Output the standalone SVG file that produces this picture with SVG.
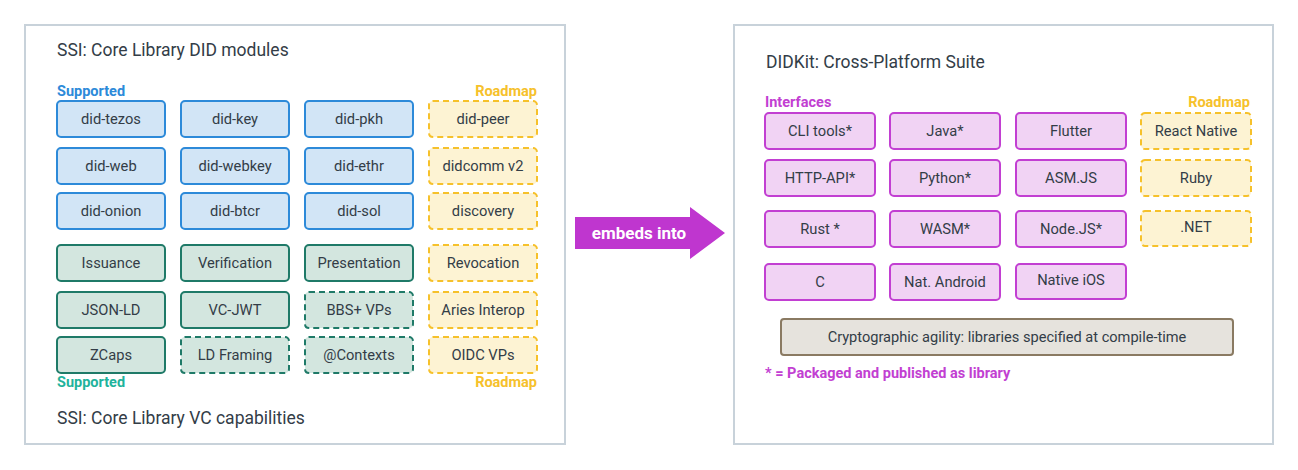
<svg xmlns="http://www.w3.org/2000/svg" width="1298" height="470" viewBox="0 0 1298 470">
<style>
  text { font-family: Roboto, "Liberation Sans", sans-serif; }
  .panel { fill: #ffffff; stroke: #c8d2da; stroke-width: 2; }
  .title { font-size: 17.5px; fill: #333d47; }
  .lbl { font-size: 14.5px; font-weight: bold; }
  .t { font-size: 14.7px; fill: #333d47; text-anchor: middle; }
  .ct { font-size: 14.6px; fill: #333d47; text-anchor: middle; }
  .did { fill: #d2e5f6; stroke: #2d8ad9; stroke-width: 2; }
  .road { fill: #fdf3d3; stroke: #f6c12b; stroke-width: 2; stroke-dasharray: 6 4; }
  .vc { fill: #d3e6df; stroke: #1f7a68; stroke-width: 2; }
  .vcd { fill: #d3e6df; stroke: #1f7a68; stroke-width: 2; stroke-dasharray: 6 4; }
  .ifc { fill: #f1d3f4; stroke: #c23fd2; stroke-width: 2; }
  .crypto { fill: #e6e3dd; stroke: #8a7a62; stroke-width: 2; }
</style>

<g id="panel-ssi">
  <rect class="panel" x="25" y="25" width="540" height="419"/>
  <text class="title" x="57" y="56">SSI: Core Library DID modules</text>
  <text class="lbl" x="57" y="95.5" fill="#2d8ad9">Supported</text>
  <text class="lbl" x="537" y="95.5" fill="#f6c12b" text-anchor="end">Roadmap</text>
  <text class="lbl" x="57" y="387" fill="#1fb39c">Supported</text>
  <text class="lbl" x="537" y="387" fill="#f6c12b" text-anchor="end">Roadmap</text>
  <text class="title" x="57" y="424">SSI: Core Library VC capabilities</text>
</g>

<g id="did-tezos"><rect class="did" x="57" y="101" width="108" height="36" rx="4"/><text class="t" x="111" y="124.3">did-tezos</text></g>
<g id="did-key"><rect class="did" x="181" y="101" width="108" height="36" rx="4"/><text class="t" x="235" y="124.3">did-key</text></g>
<g id="did-pkh"><rect class="did" x="305" y="101" width="108" height="36" rx="4"/><text class="t" x="359" y="124.3">did-pkh</text></g>
<g id="did-peer"><rect class="road" x="429" y="101" width="108" height="36" rx="4"/><text class="t" x="483" y="124.3">did-peer</text></g>

<g id="did-web"><rect class="did" x="57" y="148" width="108" height="36" rx="4"/><text class="t" x="111" y="171.3">did-web</text></g>
<g id="did-webkey"><rect class="did" x="181" y="148" width="108" height="36" rx="4"/><text class="t" x="235" y="171.3">did-webkey</text></g>
<g id="did-ethr"><rect class="did" x="305" y="148" width="108" height="36" rx="4"/><text class="t" x="359" y="171.3">did-ethr</text></g>
<g id="didcomm-v2"><rect class="road" x="429" y="148" width="108" height="36" rx="4"/><text class="t" x="483" y="171.3">didcomm v2</text></g>

<g id="did-onion"><rect class="did" x="57" y="193" width="108" height="36" rx="4"/><text class="t" x="111" y="216.3">did-onion</text></g>
<g id="did-btcr"><rect class="did" x="181" y="193" width="108" height="36" rx="4"/><text class="t" x="235" y="216.3">did-btcr</text></g>
<g id="did-sol"><rect class="did" x="305" y="193" width="108" height="36" rx="4"/><text class="t" x="359" y="216.3">did-sol</text></g>
<g id="discovery"><rect class="road" x="429" y="193" width="108" height="36" rx="4"/><text class="t" x="483" y="216.3">discovery</text></g>

<g id="issuance"><rect class="vc" x="57" y="245" width="108" height="36" rx="4"/><text class="t" x="111" y="268.3">Issuance</text></g>
<g id="verification"><rect class="vc" x="181" y="245" width="108" height="36" rx="4"/><text class="t" x="235" y="268.3">Verification</text></g>
<g id="presentation"><rect class="vc" x="305" y="245" width="108" height="36" rx="4"/><text class="t" x="359" y="268.3">Presentation</text></g>
<g id="revocation"><rect class="road" x="429" y="245" width="108" height="36" rx="4"/><text class="t" x="483" y="268.3">Revocation</text></g>

<g id="json-ld"><rect class="vc" x="57" y="292" width="108" height="36" rx="4"/><text class="t" x="111" y="315.3">JSON-LD</text></g>
<g id="vc-jwt"><rect class="vc" x="181" y="292" width="108" height="36" rx="4"/><text class="t" x="235" y="315.3">VC-JWT</text></g>
<g id="bbs-vps"><rect class="vcd" x="305" y="292" width="108" height="36" rx="4"/><text class="t" x="359" y="315.3">BBS+ VPs</text></g>
<g id="aries-interop"><rect class="road" x="429" y="292" width="108" height="36" rx="4"/><text class="t" x="483" y="315.3">Aries Interop</text></g>

<g id="zcaps"><rect class="vc" x="57" y="337" width="108" height="36" rx="4"/><text class="t" x="111" y="360.3">ZCaps</text></g>
<g id="ld-framing"><rect class="vcd" x="181" y="337" width="108" height="36" rx="4"/><text class="t" x="235" y="360.3">LD Framing</text></g>
<g id="contexts"><rect class="vcd" x="305" y="337" width="108" height="36" rx="4"/><text class="t" x="359" y="360.3">@Contexts</text></g>
<g id="oidc-vps"><rect class="road" x="429" y="337" width="108" height="36" rx="4"/><text class="t" x="483" y="360.3">OIDC VPs</text></g>

<g id="connectors">
  <g id="embeds-into">
    <path d="M575,217 H690 V207 L725,233 L690,259 V249 H575 Z" fill="#bf36cf"/>
    <text x="639" y="239" font-size="17px" font-weight="bold" fill="#ffffff" text-anchor="middle">embeds into</text>
  </g>
</g>

<g id="panel-didkit">
  <rect class="panel" x="734" y="25" width="539" height="419"/>
  <text class="title" x="766" y="68">DIDKit: Cross-Platform Suite</text>
  <text class="lbl" x="765" y="107" fill="#c23fd2">Interfaces</text>
  <text class="lbl" x="1250" y="107" fill="#f6c12b" text-anchor="end">Roadmap</text>
  <text class="lbl" x="765" y="378" fill="#c23fd2">* = Packaged and published as library</text>
</g>

<g id="cli-tools"><rect class="ifc" x="765" y="113" width="110" height="36" rx="4"/><text class="t" x="820" y="136.3">CLI tools*</text></g>
<g id="java"><rect class="ifc" x="890" y="113" width="110" height="36" rx="4"/><text class="t" x="945" y="136.3">Java*</text></g>
<g id="flutter"><rect class="ifc" x="1016" y="113" width="110" height="36" rx="4"/><text class="t" x="1071" y="136.3">Flutter</text></g>
<g id="react-native"><rect class="road" x="1141" y="113" width="110" height="36" rx="4"/><text class="t" x="1196" y="136.3">React Native</text></g>

<g id="http-api"><rect class="ifc" x="765" y="160" width="110" height="36" rx="4"/><text class="t" x="820" y="183.3">HTTP-API*</text></g>
<g id="python"><rect class="ifc" x="890" y="160" width="110" height="36" rx="4"/><text class="t" x="945" y="183.3">Python*</text></g>
<g id="asm-js"><rect class="ifc" x="1016" y="160" width="110" height="36" rx="4"/><text class="t" x="1071" y="183.3">ASM.JS</text></g>
<g id="ruby"><rect class="road" x="1141" y="160" width="110" height="36" rx="4"/><text class="t" x="1196" y="183.3">Ruby</text></g>

<g id="rust"><rect class="ifc" x="765" y="211" width="110" height="36" rx="4"/><text class="t" x="820" y="234.3">Rust *</text></g>
<g id="wasm"><rect class="ifc" x="890" y="211" width="110" height="36" rx="4"/><text class="t" x="945" y="234.3">WASM*</text></g>
<g id="node-js"><rect class="ifc" x="1016" y="211" width="110" height="36" rx="4"/><text class="t" x="1071" y="234.3">Node.JS*</text></g>
<g id="dotnet"><rect class="road" x="1141" y="211" width="110" height="35" rx="4"/><text class="t" x="1196" y="232">.NET</text></g>

<g id="c"><rect class="ifc" x="765" y="264" width="110" height="36" rx="4"/><text class="t" x="820" y="287.3">C</text></g>
<g id="nat-android"><rect class="ifc" x="890" y="264" width="110" height="36" rx="4"/><text class="t" x="945" y="287.3">Nat. Android</text></g>
<g id="native-ios"><rect class="ifc" x="1016" y="264" width="110" height="35" rx="4"/><text class="t" x="1071" y="285">Native iOS</text></g>

<g id="crypto-agility"><rect class="crypto" x="781" y="319" width="452" height="36" rx="3"/><text class="ct" x="1007" y="342.3">Cryptographic agility: libraries specified at compile-time</text></g>
</svg>
